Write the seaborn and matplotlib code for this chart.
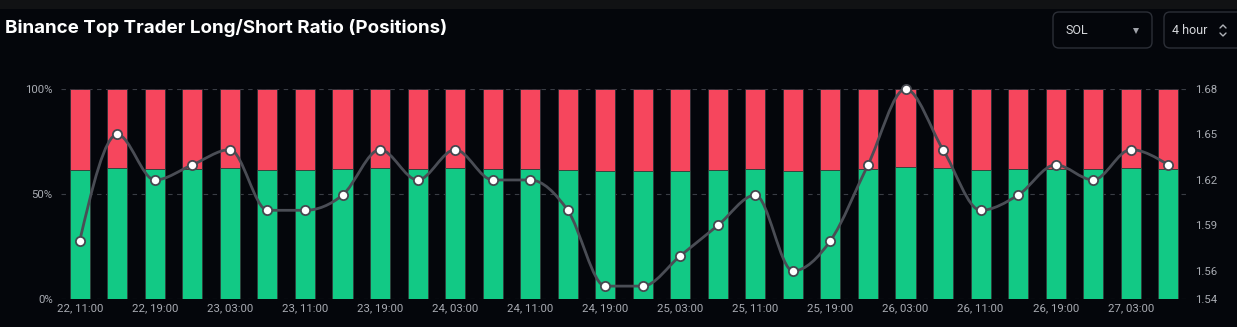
import numpy as np
import pandas as pd
import matplotlib
matplotlib.use("Agg")
import matplotlib.pyplot as plt
from matplotlib.path import Path
from matplotlib.patches import PathPatch, FancyBboxPatch, Rectangle
import seaborn as sns

# ---------------- data ----------------
times = ["22, 11:00", "22, 15:00", "22, 19:00", "22, 23:00", "23, 03:00", "23, 07:00",
         "23, 11:00", "23, 15:00", "23, 19:00", "23, 23:00", "24, 03:00", "24, 07:00",
         "24, 11:00", "24, 15:00", "24, 19:00", "24, 23:00", "25, 03:00", "25, 07:00",
         "25, 11:00", "25, 15:00", "25, 19:00", "25, 23:00", "26, 03:00", "26, 07:00",
         "26, 11:00", "26, 15:00", "26, 19:00", "26, 23:00", "27, 03:00", "27, 07:00"]
long_pct = [61.24, 62.26, 61.83, 61.98, 62.12, 61.54, 61.54, 61.69, 62.12, 61.83,
            62.12, 61.83, 61.83, 61.54, 60.78, 60.78, 61.09, 61.39, 61.69, 60.94,
            61.24, 61.98, 62.69, 62.12, 61.54, 61.69, 61.98, 61.83, 62.12, 61.98]
short_pct = [38.76, 37.74, 38.17, 38.02, 37.88, 38.46, 38.46, 38.31, 37.88, 38.17,
             37.88, 38.17, 38.17, 38.46, 39.22, 39.22, 38.91, 38.61, 38.31, 39.06,
             38.76, 38.02, 37.31, 37.88, 38.46, 38.31, 38.02, 38.17, 37.88, 38.02]
ratio = [1.58, 1.65, 1.62, 1.63, 1.64, 1.60, 1.60, 1.61, 1.64, 1.62,
         1.64, 1.62, 1.62, 1.60, 1.55, 1.55, 1.57, 1.59, 1.61, 1.56,
         1.58, 1.63, 1.68, 1.64, 1.60, 1.61, 1.63, 1.62, 1.64, 1.63]
left_ticks = [0, 50, 100]
left_labels = ["0%", "50%", "100%"]
right_ticks = [1.5417, 1.56, 1.59, 1.62, 1.65, 1.68]
right_labels = ["1.54", "1.56", "1.59", "1.62", "1.65", "1.68"]
title = "Binance Top Trader Long/Short Ratio (Positions)"

df = pd.DataFrame({"time": times, "long": long_pct, "short": short_pct, "ratio": ratio})
df["total"] = df["long"] + df["short"]
df["pos"] = np.arange(len(df))

# ---------------- style ----------------
BG = "#04060b"
GREEN = "#12c985"
RED = "#f6465d"
GRID = "#3a3d45"
TICK = "#a8abb2"

sns.set_theme(style="dark", rc={"axes.facecolor": BG, "figure.facecolor": BG})
plt.rcParams["font.family"] = ["Roboto", "DejaVu Sans"]

W, H = 1237, 327
fig = plt.figure(figsize=(W / 100, H / 100), dpi=100)
fig.patch.set_facecolor(BG)
fig.patches.append(Rectangle((0, 1 - 9 / H), 1, 9 / H, transform=fig.transFigure,
                             facecolor="#111214", edgecolor="none", zorder=0))

ax_left, ax_right = 61, 1187
ax_top, ax_bot = 89, 298.7
ax = fig.add_axes([ax_left / W, (H - ax_bot) / H, (ax_right - ax_left) / W, (ax_bot - ax_top) / H])
ax.set_facecolor(BG)

bw = 0.535
sns.barplot(data=df, x="time", y="total", color=RED, saturation=1, width=bw,
            edgecolor="#2a2f36", linewidth=0.6, ax=ax, zorder=2)
sns.barplot(data=df, x="time", y="long", color=GREEN, saturation=1, width=bw,
            edgecolor="#2a3a36", linewidth=0.6, ax=ax, zorder=3)

ax.set_xlim(-0.5, len(df) - 0.5)
ax.set_ylim(0, 100)
ax.set_yticks(left_ticks)
ax.set_yticklabels(left_labels)
ax.set_xticks(range(0, len(df), 2))
ax.set_xticklabels(times[::2])
ax.set_xlabel("")
ax.set_ylabel("")
ax.set_axisbelow(True)
ax.yaxis.grid(True, linestyle=(0, (4, 4)), color=GRID, linewidth=0.8)
ax.xaxis.grid(False)
for s in ax.spines.values():
    s.set_visible(False)
ax.tick_params(axis="y", length=0, pad=6, labelsize=8.2, labelcolor=TICK)
ax.tick_params(axis="x", length=0, pad=3.5, labelsize=8.2, labelcolor=TICK)

# ---------------- ratio line ----------------
ax2 = ax.twinx()
ax2.set_ylim(right_ticks[0], right_ticks[-1])
ax2.set_yticks(right_ticks)
ax2.set_yticklabels(right_labels)
ax2.grid(False)
for s in ax2.spines.values():
    s.set_visible(False)
ax2.tick_params(axis="y", length=0, pad=6, labelsize=8.2, labelcolor=TICK)
ax2.patch.set_visible(False)


def monotone_path(x, y):
    x = np.asarray(x, float)
    y = np.asarray(y, float)
    n = len(x)
    t = np.zeros(n)
    for i in range(1, n - 1):
        h0, h1 = x[i] - x[i - 1], x[i + 1] - x[i]
        s0, s1 = (y[i] - y[i - 1]) / h0, (y[i + 1] - y[i]) / h1
        p = (s0 * h1 + s1 * h0) / (h0 + h1)
        t[i] = (np.sign(s0) + np.sign(s1)) * min(abs(s0), abs(s1), 0.5 * abs(p))
    t[0] = (3 * (y[1] - y[0]) / (x[1] - x[0]) - t[1]) / 2
    t[-1] = (3 * (y[-1] - y[-2]) / (x[-1] - x[-2]) - t[-2]) / 2
    verts = [(x[0], y[0])]
    codes = [Path.MOVETO]
    for i in range(n - 1):
        dx = (x[i + 1] - x[i]) / 3
        verts += [(x[i] + dx, y[i] + dx * t[i]),
                  (x[i + 1] - dx, y[i + 1] - dx * t[i + 1]),
                  (x[i + 1], y[i + 1])]
        codes += [Path.CURVE4] * 3
    return Path(verts, codes)


ax2.add_patch(PathPatch(monotone_path(df["pos"], df["ratio"]), facecolor="none",
                        edgecolor="#4a4d55", linewidth=2, zorder=4, clip_on=False))
sns.scatterplot(data=df, x="pos", y="ratio", ax=ax2, s=44, color="white",
                edgecolor="#45484f", linewidth=1.3, zorder=5, clip_on=False, legend=False)
ax2.set_xlim(-0.5, len(df) - 0.5)
ax2.set_xlabel("")
ax2.set_ylabel("")

# ---------------- header ----------------
fig.text(5 / W, 1 - 33 / H, title, color="white", fontsize=13.5, fontweight="bold",
         family=["Inter", "DejaVu Sans"], ha="left", va="baseline")

ov = fig.add_axes([0, 0, 1, 1], zorder=10)
ov.set_xlim(0, W)
ov.set_ylim(H, 0)
ov.axis("off")
ov.patch.set_visible(False)
for (x0, x1) in [(1053, 1152), (1164, 1245)]:
    ov.add_patch(FancyBboxPatch((x0, 12), x1 - x0, 36,
                                boxstyle="round,pad=0,rounding_size=6",
                                facecolor=BG, edgecolor="#2c2f37", linewidth=1))
ov.text(1066, 30.5, "SOL", color="#d6d8dc", fontsize=9, va="center", ha="left")
ov.plot([1136], [30.5], marker="v", markersize=4.5, color="#a0a3aa", markeredgewidth=0)
ov.text(1172, 30.5, "4 hour", color="#d6d8dc", fontsize=9, va="center", ha="left")
ov.plot([1220, 1223, 1226], [28, 25, 28], color="#b0b3b8", linewidth=1)
ov.plot([1220, 1223, 1226], [33, 36, 33], color="#b0b3b8", linewidth=1)

fig.savefig("out.png", dpi=100, facecolor=BG)
